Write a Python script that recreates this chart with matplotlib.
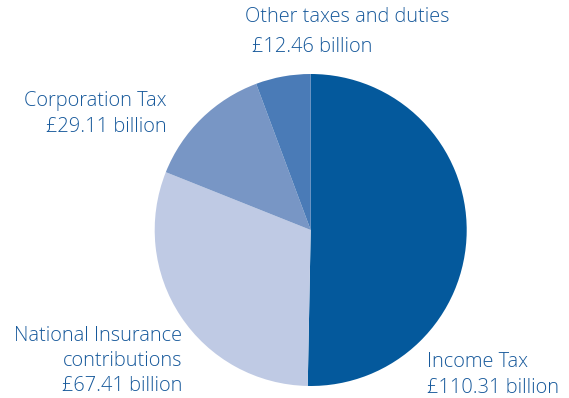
import matplotlib
matplotlib.use("Agg")
import matplotlib.pyplot as plt

# Tax receipts, £ billion
categories = ["Income Tax", "National Insurance\ncontributions", "Corporation Tax", "Other taxes and duties"]
values = [110.31, 67.41, 29.11, 12.46]
colors = ["#04599c", "#bfcae4", "#7896c5", "#4a7bb7"]
text_color = "#17599b"

plt.rcParams["font.family"] = ["Open Sans", "DejaVu Sans"]

W, H = 569, 398
fig = plt.figure(figsize=(W / 100, H / 100), dpi=100)
fig.patch.set_facecolor("white")

# pie centred at (310.7, 230) px, radius 156 px
cx, cy, r = 310.7, 230, 156
ax = fig.add_axes([(cx - r) / W, (H - cy - r) / H, 2 * r / W, 2 * r / H])
ax.pie(values, colors=colors, startangle=90, counterclock=False,
       radius=1, wedgeprops=dict(linewidth=0))
ax.set_xlim(-1, 1)
ax.set_ylim(-1, 1)
ax.set_aspect("equal")
ax.axis("off")


def label(x, y, s, ha):
    fig.text(x / W, 1 - y / H, s, ha=ha, va="center", color=text_color,
             fontsize=14.4, fontweight="light")


label(245, 17, categories[3], "left")
label(252, 47, "£%.2f billion" % values[3], "left")
label(167, 101, categories[2], "right")
label(167, 127, "£%.2f billion" % values[2], "right")
label(182, 336, "National Insurance", "right")
label(182, 361, "contributions", "right")
label(182, 386, "£%.2f billion" % values[1], "right")
label(427, 362, categories[0], "left")
label(427, 388, "£%.2f billion" % values[0], "left")

fig.savefig("out.png", dpi=100, facecolor="white")
